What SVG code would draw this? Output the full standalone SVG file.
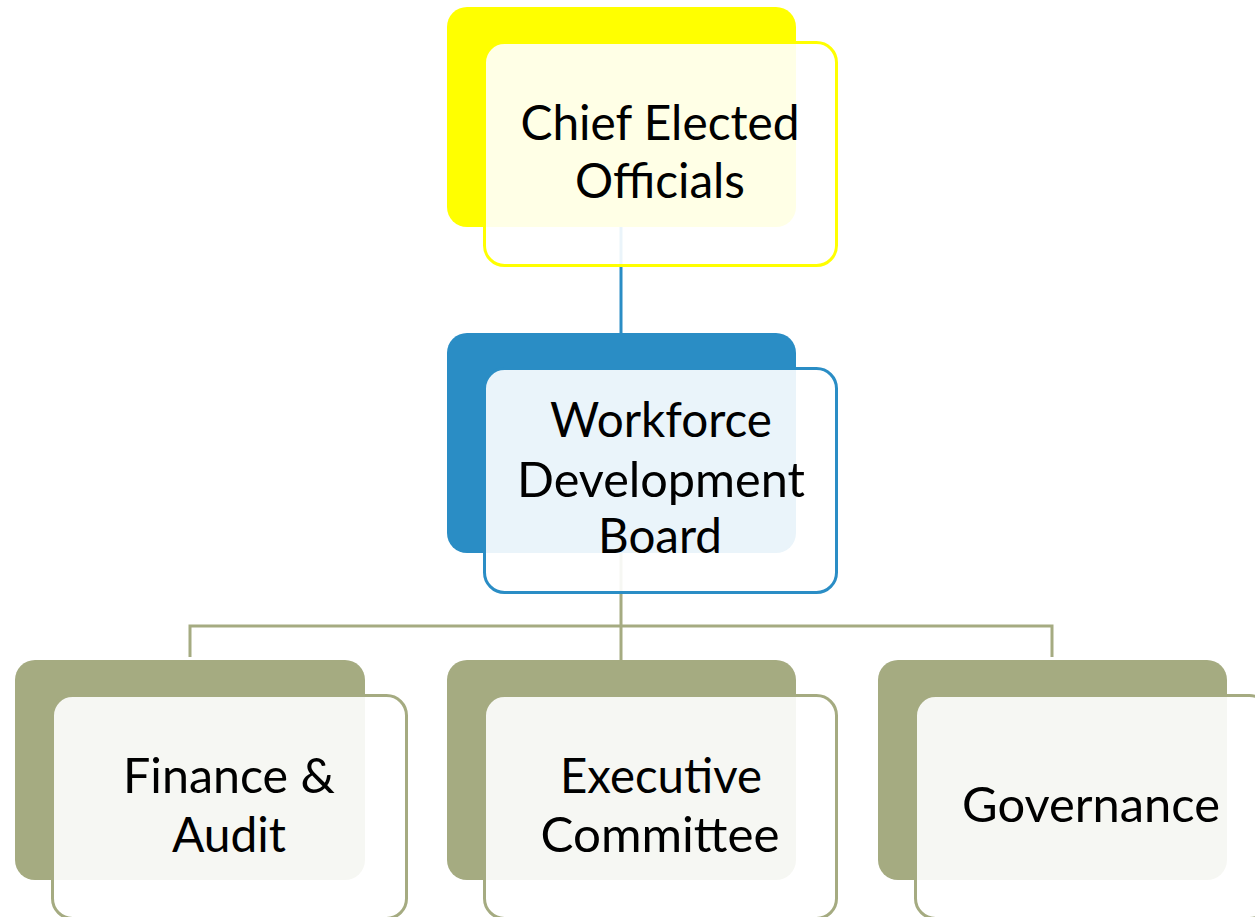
<svg xmlns="http://www.w3.org/2000/svg" width="1255" height="917" viewBox="0 0 1255 917">
<style>
.back{stroke:none}
.front{fill:#ffffff;fill-opacity:0.9;stroke-width:3}
.y .back{fill:#FFFF00}.y .front{stroke:#FFFF00}
.b .back{fill:#2A8DC5}.b .front{stroke:#2A8DC5}
.o .back{fill:#A5AB81}.o .front{stroke:#A5AB81}
text{font-family:Lato,"Open Sans","Liberation Sans",sans-serif;font-size:48px;fill:#000;text-anchor:middle}
.conn line,.conn polyline{fill:none;stroke-width:3}
</style>
<rect width="1255" height="917" fill="#ffffff"/>
<g id="connectors" class="conn">
<line x1="621" y1="227" x2="621" y2="333" stroke="#2A8DC5"/>
<line x1="621" y1="553" x2="621" y2="660" stroke="#A5AB81"/>
<polyline points="190,657 190,626 1052,626 1052,657" stroke="#A5AB81"/>
</g>
<g id="chief" class="y">
<rect class="back" x="447" y="7" width="349" height="220" rx="20"/>
<rect class="front" x="484.5" y="42.5" width="352" height="223" rx="20"/>
<text x="660" y="140" textLength="279" lengthAdjust="spacingAndGlyphs">Chief Elected</text>
<text x="660" y="198" textLength="170" lengthAdjust="spacingAndGlyphs">Officials</text>
</g>
<g id="wdb" class="b">
<rect class="back" x="447" y="333" width="349" height="220" rx="20"/>
<rect class="front" x="484.5" y="368.5" width="352" height="224" rx="20"/>
<text x="661" y="437" textLength="222" lengthAdjust="spacingAndGlyphs">Workforce</text>
<text x="661" y="497" textLength="288" lengthAdjust="spacingAndGlyphs">Development</text>
<text x="660" y="553" textLength="124" lengthAdjust="spacingAndGlyphs">Board</text>
</g>
<g id="finance" class="o">
<rect class="back" x="15" y="660" width="350" height="220" rx="20"/>
<rect class="front" x="52.5" y="695.5" width="354" height="223" rx="20"/>
<text x="229" y="793" textLength="212" lengthAdjust="spacingAndGlyphs">Finance &amp;</text>
<text x="229" y="852" textLength="114" lengthAdjust="spacingAndGlyphs">Audit</text>
</g>
<g id="executive" class="o">
<rect class="back" x="447" y="660" width="349" height="220" rx="20"/>
<rect class="front" x="484.5" y="695.5" width="352" height="223" rx="20"/>
<text x="661" y="793" textLength="202" lengthAdjust="spacingAndGlyphs">Executive</text>
<text x="660" y="852" textLength="239" lengthAdjust="spacingAndGlyphs">Committee</text>
</g>
<g id="governance" class="o">
<rect class="back" x="878" y="660" width="349" height="220" rx="20"/>
<rect class="front" x="915.5" y="695.5" width="354" height="223" rx="20"/>
<text x="1091" y="822" textLength="258" lengthAdjust="spacingAndGlyphs">Governance</text>
</g>
</svg>
